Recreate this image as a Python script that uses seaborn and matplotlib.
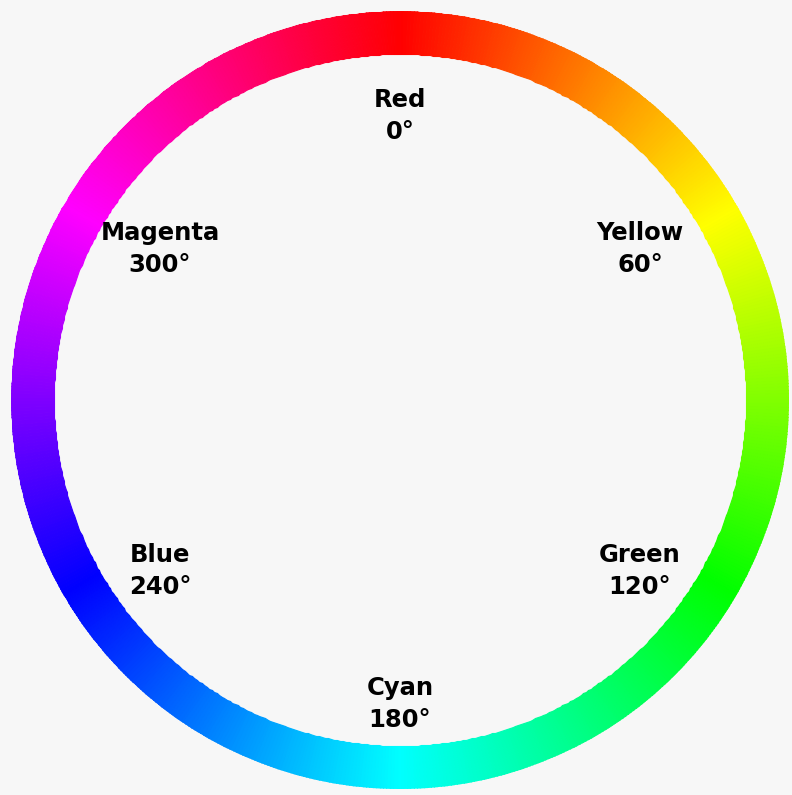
import numpy as np
import matplotlib
matplotlib.use("Agg")
import matplotlib.pyplot as plt
import matplotlib.transforms as mtransforms
from matplotlib.colors import ListedColormap
import seaborn as sns

# hue names and their angles (clockwise from the top)
hue_names = ["Red", "Yellow", "Green", "Cyan", "Blue", "Magenta"]
hue_degrees = [0, 60, 120, 180, 240, 300]

# ring geometry (in pixels of the output image)
n_steps = 720
outer_radius = 389
inner_radius = 346
label_half_width = 277   # labels sit on a slightly squarish loop
label_half_height = 294
label_shape = 0.87

sns.set_theme(style="white")
plt.rcParams['font.family'] = ['DejaVu Sans']

bg_color = "#f7f7f7"

fig = plt.figure(figsize=(7.92, 7.95), dpi=100, facecolor=bg_color)
ax = fig.add_axes([11 / 792, 6 / 795, 778 / 792, 778 / 795], projection="polar")
ax.set_facecolor(bg_color)
ax.set_theta_zero_location("N")
ax.set_theta_direction(-1)

# full-saturation hues from seaborn's HLS palette
wheel_cmap = ListedColormap(sns.hls_palette(n_steps, h=0, l=0.5, s=1.0))

theta_edges = np.linspace(0, 2 * np.pi, n_steps + 1)
r_edges = np.array([inner_radius, outer_radius])
hue_values = np.arange(n_steps).reshape(1, -1)
ax.pcolormesh(theta_edges, r_edges, hue_values, cmap=wheel_cmap,
              shading="flat", edgecolors="face", linewidth=0.8,
              antialiased=True, rasterized=True)

ax.set_ylim(0, outer_radius)
ax.set_xticks([])
ax.set_yticks([])
ax.grid(False)
ax.spines["polar"].set_visible(False)

# labels, nudged down a little like the original
text_trans = mtransforms.offset_copy(ax.transData, fig=fig, x=0, y=-10, units="dots")
for name, deg in zip(hue_names, hue_degrees):
    rad = np.deg2rad(deg)
    c = np.cos(rad)
    lx = label_half_width * np.sin(rad)
    ly = label_half_height * np.sign(c) * np.abs(c) ** label_shape
    ax.text(np.arctan2(lx, ly), np.hypot(lx, ly), f"{name}\n{deg}°",
            transform=text_trans, ha="center", va="center",
            fontsize=17.5, fontweight="bold", color="black", linespacing=1.45)

fig.savefig("out.png", dpi=100, facecolor=bg_color)
